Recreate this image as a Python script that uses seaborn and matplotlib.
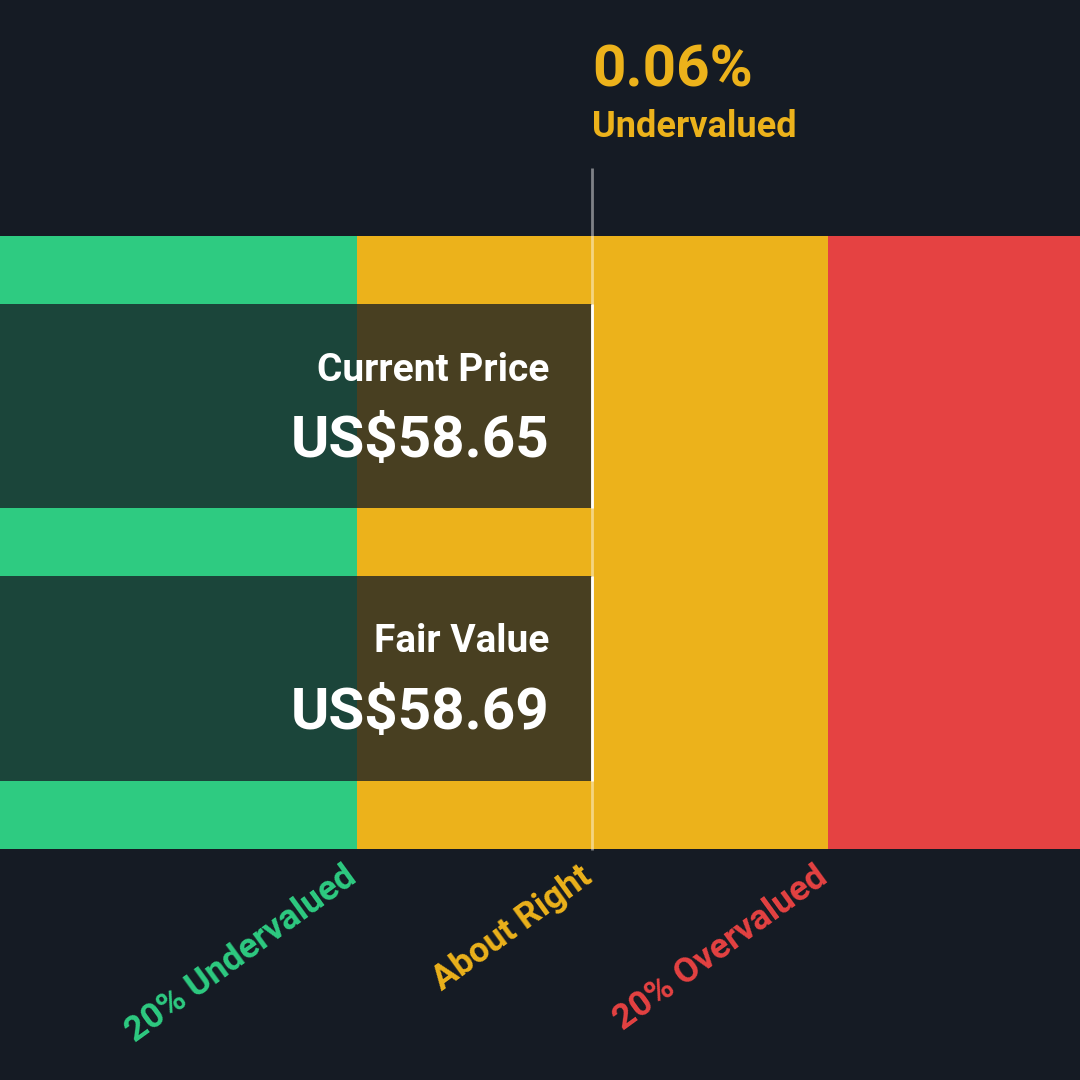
import numpy as np
import pandas as pd
import matplotlib.pyplot as plt
import matplotlib.transforms as mtransforms
import seaborn as sns

# dados
rotulos = ['Current Price', 'Fair Value']
precos = [58.65, 58.69]
faixas = ['20% Undervalued', 'About Right', '20% Overvalued']
limites_faixas = [0.8, 1.2]          # fração do valor justo
diferenca_txt = '0.06%'
status_txt = 'Undervalued'

fundo = '#151b24'
verde = '#2ecb81'
amarelo = '#ecb21b'
vermelho = '#e54242'
cores_faixas = [verde, amarelo, vermelho]

sns.set_theme(style='white')
plt.rcParams['font.family'] = ['Roboto', 'DejaVu Sans']

valor_justo = precos[1]
x_min = 0.497 * valor_justo
x_max = 1.414 * valor_justo

fig, ax = plt.subplots(figsize=(10.8, 10.8), dpi=100)
fig.patch.set_facecolor(fundo)
ax.set_facecolor(fundo)
ax.set_position([0, 0, 1, 1])

# faixas coloridas de fundo
bordas = [0] + [b * valor_justo for b in limites_faixas] + [3 * valor_justo]
for i, cor in enumerate(cores_faixas):
    ax.barh(0.5, bordas[i + 1] - bordas[i], left=bordas[i], height=2.25,
            color=cor, zorder=0.5, linewidth=0)

# barras de preço
df = pd.DataFrame({'rotulo': rotulos, 'preco': precos})
sns.barplot(data=df, x='preco', y='rotulo', orient='h', width=0.75,
            color=fundo, alpha=0.76, linewidth=0, saturation=1, ax=ax, zorder=2)
for i, p in enumerate(precos):
    ax.vlines(p, i - 0.375, i + 0.375, color='white', linewidth=2, zorder=3)

# linha do valor justo
ax.vlines(valor_justo, -0.873, 1.629, color='white', alpha=0.45, linewidth=2, zorder=4)

ax.set_xlim(x_min, x_max)
ax.set_ylim(2.473, -1.49)
ax.axis('off')

# textos
ax.text(0.509, 0.6565, rotulos[0], transform=ax.transAxes, ha='right', va='center',
        color='white', fontsize=28, fontweight='bold', zorder=5)
ax.text(0.509, 0.591, f'US${precos[0]:.2f}', transform=ax.transAxes, ha='right', va='center',
        color='white', fontsize=42, fontweight='bold', zorder=5)
ax.text(0.509, 0.4056, rotulos[1], transform=ax.transAxes, ha='right', va='center',
        color='white', fontsize=28, fontweight='bold', zorder=5)
ax.text(0.509, 0.339, f'US${precos[1]:.2f}', transform=ax.transAxes, ha='right', va='center',
        color='white', fontsize=42, fontweight='bold', zorder=5)

trans = mtransforms.blended_transform_factory(ax.transData, ax.transAxes)
ax.text(valor_justo, 1 - 71 / 1080, diferenca_txt, transform=trans, ha='left', va='center',
        color=amarelo, fontsize=42, fontweight='bold')
ax.text(valor_justo, 1 - 127 / 1080, status_txt, transform=trans, ha='left', va='center',
        color=amarelo, fontsize=26, fontweight='bold')

trans_rot = mtransforms.offset_copy(trans, fig=fig, x=-14, y=2, units='dots')
pos_rotulos = [bordas[1], valor_justo, bordas[2]]
for nome, xpos, cor in zip(faixas, pos_rotulos, cores_faixas):
    ax.text(xpos, 1 - 862 / 1080, nome, transform=trans_rot, ha='right', va='top',
            rotation=36, rotation_mode='anchor', color=cor, fontsize=25.5, fontweight='bold')

plt.savefig('out.png', dpi=100, facecolor=fundo)
